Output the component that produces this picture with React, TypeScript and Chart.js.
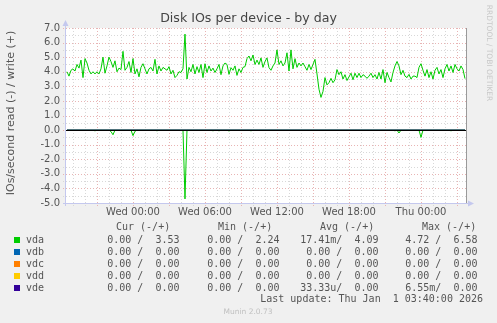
import React, { useEffect, useRef } from "react";
import { Chart, registerables } from "chart.js";
Chart.register(...registerables);

const chartTitle = "Disk IOs per device - by day";
const yAxisTitle = "IOs/second read (-) / write (+)";
const watermark = "RRDTOOL / TOBI OETIKER";
const footerText = "Munin 2.0.73";
const lastUpdate = "Last update: Thu Jan  1 03:40:00 2026";

// time axis in hours relative to Wed 00:00, one sample every 10 minutes
const startHour = -5.5;
const stepHour = 1 / 6;
const xMin = -5.5833;
const xMax = 27.75;
const xTickHours = [0, 6, 12, 18, 24];
const xTickLabels = ["Wed 00:00", "Wed 06:00", "Wed 12:00", "Wed 18:00", "Thu 00:00"];
const yTickValues = [7, 6, 5, 4, 3, 2, 1, 0, -1, -2, -3, -4, -5];

const devices = ["vda", "vdb", "vdc", "vdd", "vde"];
const deviceColors = ["#00CC00", "#0066B3", "#FF8000", "#FFCC00", "#330099"];

const vdaWrite = [
  4.0, 3.7, 4.1, 4.2, 4.05, 4.5, 4.25, 4.8, 3.6, 4.9,
  4.6, 4.1, 3.85, 4.0, 3.85, 4.0, 3.85, 4.2, 5.0, 3.9,
  4.4, 5.0, 4.7, 4.3, 4.75, 4.0, 4.25, 4.15, 5.4, 4.1,
  4.3, 4.7, 3.95, 4.9, 3.85, 4.2, 3.65, 4.3, 4.55, 4.2,
  3.85, 4.2, 4.3, 4.05, 4.85, 3.85, 4.4, 4.05, 4.3, 4.2,
  4.1, 4.35, 3.85, 4.1, 3.6, 3.75, 4.0, 3.95, 4.2, 6.58,
  3.5, 4.3, 4.0, 4.5, 3.85, 4.35, 3.95, 4.5, 3.6, 4.55,
  3.95, 4.4, 4.05, 4.25, 3.95, 4.2, 4.5, 3.8, 4.4, 4.6,
  4.5, 3.82, 4.28, 4.1, 4.4, 3.75, 4.2, 3.95, 4.3, 4.35,
  4.9, 5.08, 4.75, 5.15, 4.5, 4.8, 4.5, 4.95, 4.3, 4.7,
  4.95, 4.28, 4.1, 4.4, 4.6, 5.5, 4.5, 4.75, 4.4, 4.6,
  5.3, 4.05, 5.5, 4.2, 4.9, 4.3, 4.6, 4.4, 4.6, 4.35,
  4.1, 4.5, 4.15, 4.5, 4.85, 3.85, 2.8, 2.24, 2.65, 3.6,
  3.1, 3.25, 3.55, 3.25, 3.45, 4.15, 3.8, 4.0, 3.5, 3.8,
  3.4, 3.65, 3.9, 3.45, 3.9, 3.6, 3.9, 3.6, 3.8, 3.7,
  3.55, 3.7, 3.9, 3.6, 3.8, 3.5, 3.95, 3.5, 4.15, 3.25,
  3.95, 3.6, 3.3, 3.95, 4.4, 4.7, 4.4, 3.8, 4.1, 3.7,
  3.6, 3.82, 3.5, 3.7, 3.7, 3.6, 4.3, 4.55, 4.1, 3.7,
  4.15, 3.6, 4.0, 3.5, 4.1, 4.3, 3.85, 4.15, 3.6, 4.2,
  4.5, 4.05, 4.4, 3.95, 4.5, 4.2, 4.05, 4.4, 4.15, 3.53,
];

// read IOs (drawn below zero)
const vdaRead = [
  0, 0, 0, 0, 0, 0, 0, 0, 0, 0,
  0, 0, 0, 0, 0.05, 0, 0, 0, 0, 0,
  0, 0, 0.1, 0.32, 0, 0, 0, 0, 0, 0,
  0, 0, 0, 0.38, 0.08, 0, 0, 0, 0, 0,
  0, 0, 0, 0, 0, 0.05, 0, 0, 0, 0,
  0, 0, 0, 0, 0, 0, 0, 0, 0, 4.72,
  0, 0, 0, 0, 0, 0, 0, 0, 0, 0,
  0, 0, 0, 0.05, 0, 0, 0.05, 0, 0, 0,
  0, 0.06, 0, 0, 0, 0, 0, 0, 0, 0,
  0, 0, 0.05, 0, 0, 0, 0, 0, 0, 0,
  0, 0, 0, 0, 0, 0, 0, 0, 0, 0,
  0, 0, 0, 0, 0, 0, 0, 0, 0, 0,
  0, 0, 0, 0, 0, 0, 0, 0, 0, 0,
  0, 0, 0, 0, 0, 0, 0, 0, 0, 0,
  0, 0, 0, 0, 0, 0, 0, 0, 0, 0,
  0, 0, 0, 0, 0, 0, 0, 0, 0, 0,
  0, 0, 0, 0, 0.05, 0, 0.2, 0, 0, 0,
  0, 0, 0, 0, 0, 0, 0, 0.5, 0, 0,
  0, 0, 0, 0, 0, 0, 0, 0, 0, 0,
  0, 0, 0.05, 0, 0, 0, 0, 0, 0, 0,
];

// the other devices are idle: value at first and last sample
const idleWrite = [0, 0];
const idleRead = [0, 0];

const legendHeaders = ["Cur (-/+)", "Min (-/+)", "Avg (-/+)", "Max (-/+)"];
const curStats = ["0.00 /  3.53", "0.00 /  0.00", "0.00 /  0.00", "0.00 /  0.00", "0.00 /  0.00"];
const minStats = ["0.00 /  2.24", "0.00 /  0.00", "0.00 /  0.00", "0.00 /  0.00", "0.00 /  0.00"];
const avgStats = ["17.41m/  4.09", "0.00 /  0.00", "0.00 /  0.00", "0.00 /  0.00", "33.33u/  0.00"];
const maxStats = ["4.72 /  6.58", "0.00 /  0.00", "0.00 /  0.00", "0.00 /  0.00", "6.55m/  0.00"];

const SANS = "'DejaVu Sans', sans-serif";
const MONO = "'DejaVu Sans Mono', monospace";
const TEXT = "#555555";
const MAJOR = "#e8b4b4";
const MINOR = "#d8d8d8";
const AXIS = "#c4c8ee";

function toPoints(values: number[], sign: number) {
  return values.map((v, i) => ({ x: startHour + i * stepHour, y: sign * v }));
}
function idlePoints(values: number[], sign: number) {
  const lastX = startHour + (vdaWrite.length - 1) * stepHour;
  return values.map((v, i) => ({ x: i === 0 ? startHour : lastX, y: sign * v }));
}

const muninPlugin = {
  id: "muninDecor",
  beforeDatasetsDraw(chart: any) {
    const { ctx, chartArea: ca } = chart;
    const xs = chart.scales.x;
    const ys = chart.scales.y;
    ctx.save();
    ctx.fillStyle = "#FFFFFF";
    ctx.fillRect(ca.left, ca.top, ca.right - ca.left, ca.bottom - ca.top);
    ctx.lineWidth = 1;
    ctx.setLineDash([1, 2]);
    // vertical grid: every hour, major every 3 hours
    for (let h = Math.ceil(xMin); h <= Math.floor(xMax); h++) {
      const px = Math.round(xs.getPixelForValue(h)) + 0.5;
      ctx.strokeStyle = h % 3 === 0 ? MAJOR : MINOR;
      ctx.beginPath();
      ctx.moveTo(px, ca.top);
      ctx.lineTo(px, ca.bottom + 3);
      ctx.stroke();
    }
    // horizontal grid: every 0.5, major every 1
    for (let k = -10; k <= 14; k++) {
      const py = Math.round(ys.getPixelForValue(k / 2)) + 0.5;
      ctx.strokeStyle = k % 2 === 0 ? MAJOR : MINOR;
      ctx.beginPath();
      ctx.moveTo(ca.left - 3, py);
      ctx.lineTo(ca.right, py);
      ctx.stroke();
    }
    ctx.restore();
  },
  afterDatasetsDraw(chart: any) {
    const { ctx, chartArea: ca } = chart;
    const ys = chart.scales.y;
    ctx.save();
    ctx.setLineDash([]);
    ctx.lineWidth = 1;
    // zero line
    const zy = Math.round(ys.getPixelForValue(0)) + 0.5;
    ctx.strokeStyle = "#000000";
    ctx.beginPath();
    ctx.moveTo(ca.left, zy);
    ctx.lineTo(ca.right, zy);
    ctx.stroke();
    // right frame
    ctx.strokeStyle = "#9a9a9a";
    ctx.beginPath();
    ctx.moveTo(Math.round(ca.right) + 0.5, ca.top);
    ctx.lineTo(Math.round(ca.right) + 0.5, ca.bottom);
    ctx.stroke();
    // axes
    const lx = Math.round(ca.left) - 0.5;
    const by = Math.round(ca.bottom) + 0.5;
    ctx.strokeStyle = AXIS;
    ctx.beginPath();
    ctx.moveTo(lx, ca.top - 4);
    ctx.lineTo(lx, ca.bottom + 3);
    ctx.moveTo(ca.left - 3, by);
    ctx.lineTo(ca.right + 4, by);
    ctx.stroke();
    ctx.fillStyle = AXIS;
    ctx.beginPath();
    ctx.moveTo(lx, ca.top - 8);
    ctx.lineTo(lx - 3, ca.top - 2);
    ctx.lineTo(lx + 3, ca.top - 2);
    ctx.closePath();
    ctx.fill();
    ctx.beginPath();
    ctx.moveTo(ca.right + 8, by);
    ctx.lineTo(ca.right + 2, by - 3);
    ctx.lineTo(ca.right + 2, by + 3);
    ctx.closePath();
    ctx.fill();
    ctx.restore();
  },
  afterDraw(chart: any) {
    const { ctx } = chart;
    ctx.save();
    // title
    ctx.fillStyle = "#444444";
    ctx.font = `12.6px ${SANS}`;
    ctx.textAlign = "center";
    ctx.textBaseline = "middle";
    ctx.fillText(chartTitle, 248.5, 19);
    // y axis title
    ctx.save();
    ctx.translate(11, 113);
    ctx.rotate(-Math.PI / 2);
    ctx.fillStyle = TEXT;
    ctx.font = `11px ${SANS}`;
    ctx.fillText(yAxisTitle, 0, 0);
    ctx.restore();
    // watermark
    ctx.save();
    ctx.translate(488.5, 53);
    ctx.rotate(Math.PI / 2);
    ctx.fillStyle = "#c8c8c8";
    ctx.font = `7.5px ${SANS}`;
    ctx.fillText(watermark, 0, 0);
    ctx.restore();
    // legend table
    ctx.textAlign = "left";
    ctx.fillStyle = TEXT;
    ctx.font = `10px ${MONO}`;
    const headerX = [116, 218, 320, 422];
    legendHeaders.forEach((h, i) => ctx.fillText(h, headerX[i], 227.5));
    const rowY = [240, 252, 264, 276, 288];
    devices.forEach((d, i) => {
      const y = rowY[i];
      ctx.fillStyle = deviceColors[i];
      ctx.fillRect(14, y - 3, 6, 6);
      ctx.fillStyle = TEXT;
      ctx.font = `10px ${MONO}`;
      ctx.fillText(d, 26, y);
      ctx.textAlign = "right";
      ctx.fillText(curStats[i], 179.5, y);
      ctx.fillText(minStats[i], 279.5, y);
      ctx.fillText(avgStats[i], 378.5, y);
      ctx.fillText(maxStats[i], 477.5, y);
      ctx.textAlign = "left";
    });
    ctx.textAlign = "right";
    ctx.fillText(lastUpdate, 483, 299.5);
    ctx.textAlign = "center";
    ctx.fillStyle = "#c0c0c0";
    ctx.font = `7.5px ${SANS}`;
    ctx.fillText(footerText, 248, 312.5);
    ctx.restore();
  },
};

const bgPlugin = {
  id: "muninBg",
  beforeDraw(chart: any) {
    const { ctx, width, height } = chart;
    ctx.save();
    ctx.fillStyle = "#F0F0F0";
    ctx.fillRect(0, 0, width, height);
    ctx.restore();
  },
};

export default function App() {
  const canvasRef = useRef<HTMLCanvasElement | null>(null);
  useEffect(() => {
    document.body.style.margin = "0";
    const canvas = canvasRef.current;
    if (!canvas) return;
    const lineDs = (label: string, data: any[], color: string) => ({
      label,
      data,
      borderColor: color,
      backgroundColor: color,
      borderWidth: 1,
      pointRadius: 0,
      tension: 0,
      fill: false,
    });
    const datasets: any[] = [];
    devices.forEach((d, i) => {
      if (i === 0) return;
      datasets.push(lineDs(d + " write", idlePoints(idleWrite, 1), deviceColors[i]));
      datasets.push(lineDs(d + " read", idlePoints(idleRead, -1), deviceColors[i]));
    });
    datasets.push(lineDs("vda read", toPoints(vdaRead, -1), deviceColors[0]));
    datasets.push(lineDs("vda write", toPoints(vdaWrite, 1), deviceColors[0]));
    const chart = new Chart(canvas, {
      type: "line",
      data: { datasets },
      plugins: [bgPlugin, muninPlugin],
      options: {
        animation: false,
        responsive: false,
        devicePixelRatio: 1,
        layout: { padding: { left: 0, right: 31, top: 28, bottom: 100 } },
        plugins: { legend: { display: false }, tooltip: { enabled: false }, title: { display: false } },
        scales: {
          x: {
            type: "linear",
            min: xMin,
            max: xMax,
            grid: { display: false, drawTicks: false },
            border: { display: false },
            afterFit: (s: any) => { s.height = 20; },
            afterBuildTicks: (s: any) => { s.ticks = xTickHours.map((v) => ({ value: v })); },
            ticks: {
              autoSkip: false,
              maxRotation: 0,
              padding: 3,
              color: TEXT,
              font: { family: "DejaVu Sans", size: 10 },
              callback: (v: any) => {
                const idx = xTickHours.indexOf(Number(v));
                return idx >= 0 ? xTickLabels[idx] : "";
              },
            },
          },
          y: {
            type: "linear",
            min: -5,
            max: 7,
            grid: { display: false, drawTicks: false },
            border: { display: false },
            afterFit: (s: any) => { s.width = 66; },
            afterBuildTicks: (s: any) => { s.ticks = yTickValues.map((v) => ({ value: v })); },
            ticks: {
              autoSkip: false,
              padding: 6,
              color: TEXT,
              font: { family: "DejaVu Sans", size: 10 },
              callback: (v: any) => Number(v).toFixed(1),
            },
          },
        },
      },
    });
    return () => chart.destroy();
  }, []);
  return (
    <div style={{ width: 497, height: 323 }}>
      <canvas ref={canvasRef} width={497} height={323} style={{ display: "block" }} />
    </div>
  );
}
